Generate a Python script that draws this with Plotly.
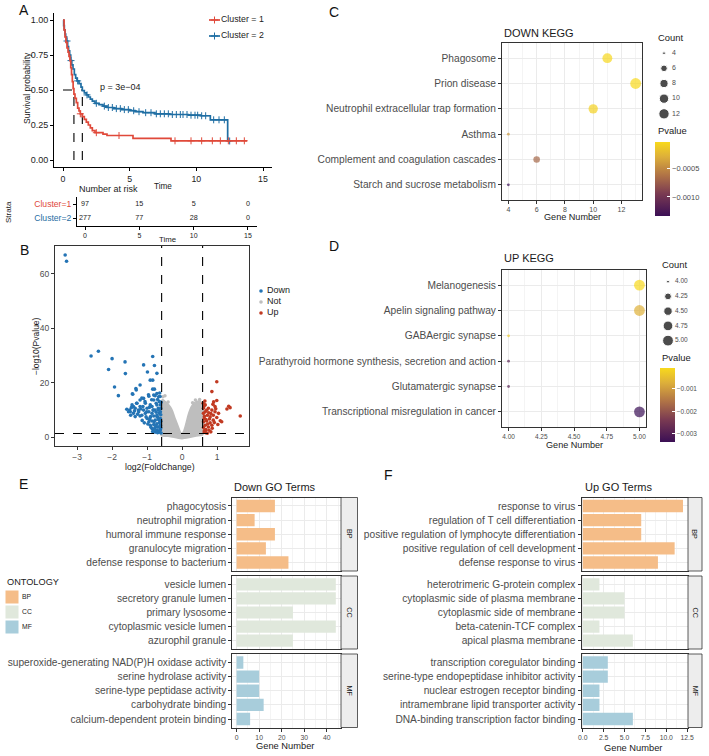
import numpy as np
import plotly.graph_objects as go

W, H = 709, 756

# ============================ DATA ============================
# ---- A: Kaplan-Meier curves (step points) ----
km1_time = [0, 0.08, 0.15, 0.22, 0.30, 0.38, 0.45, 0.52, 0.58, 0.64, 0.70, 0.76, 0.82, 0.90, 1.00,
            1.10, 1.20, 1.30, 1.45, 1.60, 1.75, 1.90, 2.05, 2.20, 2.40, 3.00, 3.30, 5.25, 8.10, 13.80]
km1_surv = [1.00, 0.93, 0.88, 0.84, 0.80, 0.77, 0.74, 0.71, 0.66, 0.61, 0.56, 0.51, 0.47, 0.44, 0.41,
            0.37, 0.35, 0.33, 0.31, 0.29, 0.27, 0.25, 0.23, 0.21, 0.195, 0.185, 0.175, 0.155, 0.137, 0.137]
km2_time = [0, 0.05, 0.10, 0.15, 0.20, 0.27, 0.35, 0.42, 0.50, 0.58, 0.66, 0.75, 0.85, 0.95, 1.05,
            1.20, 1.35, 1.45, 1.60, 1.75, 1.90, 2.05, 2.20, 2.40, 2.70, 3.00, 3.30, 3.80, 4.40, 5.00,
            5.40, 6.00, 6.90, 8.00, 9.40, 10.30, 11.05, 12.35, 12.60]
km2_surv = [1.00, 0.96, 0.93, 0.90, 0.88, 0.85, 0.81, 0.78, 0.75, 0.71, 0.68, 0.65, 0.61, 0.585, 0.565,
            0.545, 0.52, 0.495, 0.48, 0.465, 0.45, 0.435, 0.42, 0.405, 0.395, 0.385, 0.375, 0.367, 0.36, 0.352,
            0.345, 0.338, 0.33, 0.325, 0.32, 0.316, 0.287, 0.136, 0.136]
km1_censor = [1.3, 2.5, 4.2, 8.4, 9.6, 10.4, 11.2, 11.8, 12.4, 13.0, 13.6]
km2_censor = [0.3, 0.6, 1.1, 1.8, 2.5, 3.1, 3.4, 3.7, 4.0, 4.3, 4.6, 4.9, 5.3, 5.7, 6.2, 6.6, 7.0, 7.3,
              7.6, 7.9, 8.2, 8.5, 8.8, 9.0, 9.3, 9.6, 9.9, 10.1, 10.4, 10.7, 11.3, 11.7, 12.1, 12.5]
cluster_labels = ["Cluster = 1", "Cluster = 2"]
strata_labels = ["Cluster=1", "Cluster=2"]
km_p_label = "p = 3e\u221204"
risk_times = [0, 5, 10, 15]
risk_cluster1 = [97, 15, 5, 0]
risk_cluster2 = [277, 77, 28, 0]

# ---- B: volcano plot ----
down_fc = [-3.34, -3.30, -2.60, -2.39, -2.00, -2.10, -1.63, -1.62, -1.93, -1.82, -1.32, -1.42, -1.10, -0.84,
           -0.79, -0.72, -0.99, -0.91, -0.84, -0.84, -0.79,
           -1.50, -1.53, -1.47, -1.39, -1.34, -1.30, -1.25, -1.20, -1.15, -1.12, -1.06, -1.01, -0.96, -0.91,
           -0.90, -0.87, -0.82, -0.80, -0.77, -0.74, -0.72, -0.70, -0.68, -0.65, -0.63, -0.63,
           -1.20, -1.31, -1.41, -0.72, -0.81, -0.95, -1.10, -1.20, -0.81, -0.67, -1.05, -1.29, -1.43, -1.20,
           -1.34, -1.48, -1.39, -1.24, -1.10, -1.00, -0.86, -0.72, -0.65, -1.15, -1.05, -0.95, -0.86, -0.77,
           -0.68, -1.00, -0.91, -0.81, -0.72, -0.65, -0.95, -0.86, -0.77, -0.68, -0.91, -0.81, -0.72, -0.65,
           -0.86, -0.77, -0.68, -0.72, -0.62, -0.65, -0.77, -0.62, -0.62, -0.62, -0.62, -0.69, -0.74, -0.83,
           -0.93, -0.60, -0.61, -0.61, -0.61, -0.61, -0.60, -0.66, -0.70, -0.75, -0.79, -0.84, -0.89, -0.93,
           -0.98, -1.03, -1.08, -1.14, -1.18, -1.27, -1.36, -1.45, -1.58, -0.64, -0.70]
down_logp = [66.9, 64.6, 29.8, 31.5, 28.8, 24.8, 27.6, 23.3, 18.4, 15.2, 17.8, 15.9, 26.5, 29.6,
             26.3, 23.4, 23.9, 20.9, 20.9, 17.6, 17.6,
             9.9, 9.3, 8.0, 11.2, 7.5, 12.4, 9.9, 7.7, 14.3, 11.2, 13.0, 9.3, 15.5, 11.8,
             7.5, 13.7, 9.9, 5.6, 15.2, 12.4, 7.5, 3.7, 9.9, 6.2, 14.9, 2.5,
             19.1, 17.3, 15.7, 16.0, 15.4, 15.0, 14.2, 13.6, 13.6, 14.8, 12.4, 12.4, 11.8, 11.2,
             10.6, 9.3, 8.7, 9.3, 9.9, 10.6, 11.2, 11.8, 13.0, 8.0, 8.7, 9.3, 8.7, 9.9,
             10.6, 6.8, 7.2, 7.7, 8.0, 8.7, 5.6, 5.9, 6.2, 6.5, 4.3, 4.6, 4.9, 5.2,
             3.1, 3.5, 3.7, 2.5, 2.7, 1.8, 1.8, 4.3, 6.8, 9.3, 11.8, 7.2, 9.1, 9.9,
             10.9, 1.5, 3.3, 5.8, 8.2, 10.5, 12.8, 2.2, 1.6, 4.1, 2.9, 2.0, 3.6, 6.4,
             4.8, 7.4, 5.2, 6.1, 10.3, 8.4, 9.6, 10.8, 10.2, 16.2, 13.8]
up_fc = [0.99, 0.85, 0.99, 0.90, 1.28, 1.37, 1.33, 1.66, 1.09, 1.13, 0.66, 0.75, 0.85, 0.94, 1.04,
         0.66, 0.72, 0.80, 0.89, 0.99, 0.63, 0.70, 0.80, 0.89, 0.66, 0.75, 0.85, 0.68, 0.77, 0.63,
         0.72, 0.61, 0.61, 0.61, 0.61, 0.94, 0.60, 0.64, 0.68, 0.73, 0.78, 0.82, 0.86, 0.92, 0.96,
         0.70, 0.76, 0.64, 0.67, 0.82, 1.02, 0.88, 0.62, 0.65]
up_logp = [20.3, 16.7, 13.4, 12.9, 10.3, 10.8, 11.3, 7.7, 6.0, 5.6, 11.8, 10.6, 9.9, 9.3, 8.7,
           9.3, 8.0, 7.4, 8.0, 7.2, 6.8, 5.9, 5.2, 6.2, 4.3, 3.7, 4.3, 2.7, 2.5, 1.8,
           1.4, 8.7, 10.6, 5.6, 3.5, 11.2, 12.4, 7.6, 6.4, 4.8, 6.6, 8.6, 3.2, 5.3, 10.4,
           9.8, 8.9, 2.4, 1.6, 1.9, 4.6, 12.0, 11.2, 13.2]
# outline of the dense grey cloud of non-significant genes
not_fc = [-0.60, -0.60, -0.55, -0.48, -0.42, -0.33, -0.27, -0.22, -0.16, -0.10, -0.05, 0.00, 0.04, 0.09,
          0.14, 0.19, 0.25, 0.32, 0.40, 0.48, 0.55, 0.59, 0.59, 0.40, 0.20, 0.00, -0.20, -0.40, -0.60]
not_logp = [0.6, 13.0, 13.8, 13.0, 12.4, 11.0, 9.5, 7.5, 5.5, 3.5, 1.8, 1.2, 2.0, 4.0,
            6.5, 8.8, 10.8, 12.2, 13.0, 13.2, 12.8, 12.0, 0.8, 0.4, -0.2, -0.6, -0.2, 0.3, 0.6]
not_extra_fc = [-0.49, -0.55, 0.38, 0.50, -0.40, 0.30]
not_extra_logp = [15.2, 14.8, 13.6, 13.8, 12.9, 12.6]
fc_cutoff = 0.585
p_cutoff = 1.3

# ---- C: DOWN KEGG ----
down_kegg_terms = ["Phagosome", "Prion disease", "Neutrophil extracellular trap formation", "Asthma",
                   "Complement and coagulation cascades", "Starch and sucrose metabolism"]
down_kegg_count = [11, 13, 10, 4, 6, 4]
down_kegg_p = [-0.00006, -0.00005, -0.00009, -0.00043, -0.00069, -0.00133]
down_count_breaks = [4, 6, 8, 10, 12]

# ---- D: UP KEGG ----
up_kegg_terms = ["Melanogenesis", "Apelin signaling pathway", "GABAergic synapse",
                 "Parathyroid hormone synthesis, secretion and action", "Glutamatergic synapse",
                 "Transcriptional misregulation in cancer"]
up_kegg_count = [5, 5, 4, 4, 4, 5]
up_kegg_p = [-0.00007, -0.00070, -0.00030, -0.00290, -0.00290, -0.00336]
up_count_breaks = [4.00, 4.25, 4.50, 4.75, 5.00]

# ---- E: Down GO terms ----
down_bp_terms = ["phagocytosis", "neutrophil migration", "humoral immune response", "granulocyte migration",
                 "defense response to bacterium"]
down_bp_counts = [17, 8, 17, 13, 23]
down_cc_terms = ["vesicle lumen", "secretory granule lumen", "primary lysosome", "cytoplasmic vesicle lumen",
                 "azurophil granule"]
down_cc_counts = [44, 44, 25, 44, 25]
down_mf_terms = ["superoxide-generating NAD(P)H oxidase activity", "serine hydrolase activity",
                 "serine-type peptidase activity", "carbohydrate binding", "calcium-dependent protein binding"]
down_mf_counts = [3, 10, 10, 12, 6]

# ---- F: Up GO terms ----
up_bp_terms = ["response to virus", "regulation of T cell differentiation",
               "positive regulation of lymphocyte differentiation", "positive regulation of cell development",
               "defense response to virus"]
up_bp_counts = [12, 7, 7, 11, 9]
up_cc_terms = ["heterotrimeric G-protein complex", "cytoplasmic side of plasma membrane",
               "cytoplasmic side of membrane", "beta-catenin-TCF complex", "apical plasma membrane"]
up_cc_counts = [2, 5, 5, 2, 6]
up_mf_terms = ["transcription coregulator binding", "serine-type endopeptidase inhibitor activity",
               "nuclear estrogen receptor binding", "intramembrane lipid transporter activity",
               "DNA-binding transcription factor binding"]
up_mf_counts = [3, 3, 2, 2, 6]
ontologies = ["BP", "CC", "MF"]

# ============================ STYLE ============================
FONT = "Liberation Sans, Arial, Helvetica, sans-serif"
RED, BLUE = "#E0493A", "#1F6EA3"
V_BLUE, V_RED, V_GREY = "#2474B5", "#C13A22", "#BEBEBE"
GRID, MINOR, BORDER, TXT = "#EBEBEB", "#F4F4F4", "#333333", "#4D4D4D"
ONT_COL = {"BP": "#F5BD88", "CC": "#E0E8DC", "MF": "#A8CDDB"}
PV_SCALE = [[0, "#3B0F55"], [0.3, "#7A3A52"], [0.55, "#B07346"], [0.8, "#DDAF3A"], [1, "#F8D91C"]]


def fx(px):
    return px / W


def fy(py):
    return 1 - py / H


annotations, shapes = [], []


def ann(text, x, y, size=9, color="#1A1A1A", xanchor="center", yanchor="middle", angle=0):
    annotations.append(dict(text=text, x=fx(x), y=fy(y), xref="paper", yref="paper", showarrow=False,
                            font=dict(size=size, color=color, family=FONT), xanchor=xanchor,
                            yanchor=yanchor, textangle=angle))


def axis(dom, rng, anchor, **kw):
    d = dict(domain=dom, range=rng, anchor=anchor, automargin=False, showgrid=False, zeroline=False,
             fixedrange=True)
    d.update(kw)
    return d


def hidden(dom, rng, anchor):
    return dict(domain=dom, range=rng, anchor=anchor, visible=False, fixedrange=True, automargin=False)


def size_px(v, vmin, vmax, dmin=2.8, dmax=10.8):
    return dmin + (dmax - dmin) * np.sqrt((np.asarray(v, float) - vmin) / (vmax - vmin))


fig = go.Figure()
lay = {}

# ============================ A: KM ============================
lay["xaxis"] = axis([fx(54), fx(272)], [-0.675, 15.675], "y", showline=True, linecolor="black", linewidth=1,
                    ticks="outside", ticklen=3, tickcolor="black", tickvals=[0, 5, 10, 15],
                    tickfont=dict(size=8.8, color="#222"))
lay["yaxis"] = axis([fy(167), fy(13)], [-0.05, 1.05], "x", showline=True, linecolor="black", linewidth=1,
                    ticks="outside", ticklen=3, tickcolor="black", tickvals=[0, 0.25, 0.5, 0.75, 1],
                    ticktext=["0.00", "0.25", "0.50", "0.75", "1.00"], tickfont=dict(size=9, color="#222"))


def surv_at(times, surv, t):
    i = np.searchsorted(np.asarray(times), t, side="right") - 1
    return surv[i]


def median_time(times, surv):
    for t, s in zip(times, surv):
        if s <= 0.5:
            return t


m1, m2 = median_time(km1_time, km1_surv), median_time(km2_time, km2_surv)
mmax = max(m1, m2)
fig.add_trace(go.Scatter(x=[0, mmax], y=[0.5, 0.5], mode="lines", line=dict(color="black", width=1.1, dash="dash"),
                         xaxis="x", yaxis="y", hoverinfo="skip"))
for m in (m1, m2):
    fig.add_trace(go.Scatter(x=[m, m], y=[0, 0.5], mode="lines",
                             line=dict(color="black", width=1.1, dash="dash"), xaxis="x", yaxis="y",
                             hoverinfo="skip"))
CENS = dict(symbol="cross-thin-open", size=5)
for tt, ss, cens, col in [(km2_time, km2_surv, km2_censor, BLUE), (km1_time, km1_surv, km1_censor, RED)]:
    fig.add_trace(go.Scatter(x=tt, y=ss, mode="lines", line=dict(color=col, width=1.7, shape="hv"),
                             xaxis="x", yaxis="y", hoverinfo="skip"))
    fig.add_trace(go.Scatter(x=cens, y=[surv_at(tt, ss, c) for c in cens], mode="markers",
                             marker=dict(**CENS, color=col, line=dict(color=col, width=1)),
                             xaxis="x", yaxis="y", hoverinfo="skip"))
annotations.append(dict(text=km_p_label, x=2.6, y=0.52, xref="x", yref="y", showarrow=False, xanchor="left",
                        font=dict(size=9, color="#222", family=FONT)))
ann("Survival probability", 27, 88, size=8.5, angle=-90)
ann("Time", 163, 186, size=8.2)
ann("Number at risk", 77, 189, size=9.0, xanchor="left")

# legend A
lay["xaxis12"] = hidden([fx(205), fx(275)], [0, 70], "y12")
lay["yaxis12"] = hidden([fy(44), fy(12)], [1.5, -0.5], "x12")
for i, (lab, col) in enumerate(zip(cluster_labels, [RED, BLUE])):
    fig.add_trace(go.Scatter(x=[4, 15], y=[i, i], mode="lines", line=dict(color=col, width=1.7),
                             xaxis="x12", yaxis="y12", hoverinfo="skip"))
    fig.add_trace(go.Scatter(x=[9.5], y=[i], mode="markers",
                             marker=dict(**CENS, color=col, line=dict(color=col, width=1)),
                             xaxis="x12", yaxis="y12", hoverinfo="skip"))
    fig.add_trace(go.Scatter(x=[16], y=[i], mode="text", text=[lab], textposition="middle right",
                             textfont=dict(size=8.8, color="#222", family=FONT), xaxis="x12", yaxis="y12",
                             hoverinfo="skip", cliponaxis=False))

# risk table
tick_cols = [RED, BLUE]
lay["xaxis2"] = axis([fx(77), fx(257)], [-0.74, 15.83], "y2", showline=True, linecolor="black", linewidth=1,
                     ticks="outside", ticklen=3, tickcolor="black", tickvals=risk_times,
                     tickfont=dict(size=7, color="#222"))
lay["yaxis2"] = axis([fy(226), fy(197)], [0.43, 2.5], "x2", showline=True, linecolor="black", linewidth=1,
                     ticks="outside", ticklen=3, tickcolor="black", tickvals=[2, 1],
                     ticktext=[f'<span style="color:{c}">{s}</span>' for s, c in zip(strata_labels, tick_cols)],
                     tickfont=dict(size=8.6))
fig.add_trace(go.Scatter(x=risk_times + risk_times, y=[2] * len(risk_times) + [1] * len(risk_times),
                         mode="text", text=[str(v) for v in risk_cluster1 + risk_cluster2],
                         textfont=dict(size=7.2, color="#222", family=FONT), xaxis="x2", yaxis="y2",
                         hoverinfo="skip", cliponaxis=False))
ann("Strata", 8, 212, size=8, angle=-90)
ann("Time", 167, 239, size=7.8)

# ============================ B: volcano ============================
lay["xaxis3"] = axis([fx(55), fx(249)], [-3.63, 1.91], "y3", showline=True, mirror=True, linecolor=BORDER,
                     linewidth=1, ticks="outside", ticklen=3, tickcolor=BORDER, tickvals=[-3, -2, -1, 0, 1],
                     ticktext=["\u22123", "\u22122", "\u22121", "0", "1"], tickfont=dict(size=8.5, color=TXT))
lay["yaxis3"] = axis([fy(446), fy(246)], [-3.3, 70.2], "x3", showline=True, mirror=True, linecolor=BORDER,
                     linewidth=1, ticks="outside", ticklen=3, tickcolor=BORDER, tickvals=[0, 20, 40, 60],
                     tickfont=dict(size=8.5, color=TXT))
fig.add_trace(go.Scatter(x=not_fc, y=not_logp, mode="lines", fill="toself", fillcolor=V_GREY,
                         line=dict(color=V_GREY, width=1.5, shape="spline", smoothing=0.6), xaxis="x3", yaxis="y3",
                         hoverinfo="skip"))
fig.add_trace(go.Scatter(x=not_extra_fc, y=not_extra_logp, mode="markers", marker=dict(color=V_GREY, size=3.5),
                         xaxis="x3", yaxis="y3", hoverinfo="skip"))
fig.add_trace(go.Scatter(x=down_fc, y=down_logp, mode="markers", marker=dict(color=V_BLUE, size=3.6),
                         xaxis="x3", yaxis="y3", hoverinfo="skip"))
fig.add_trace(go.Scatter(x=up_fc, y=up_logp, mode="markers", marker=dict(color=V_RED, size=3.6),
                         xaxis="x3", yaxis="y3", hoverinfo="skip"))
for xv in (-fc_cutoff, fc_cutoff):
    shapes.append(dict(type="line", xref="x3", yref="y3 domain", x0=xv, x1=xv, y0=0, y1=1,
                       line=dict(color="black", width=1.1, dash="dash")))
shapes.append(dict(type="line", xref="x3 domain", yref="y3", x0=0, x1=1, y0=p_cutoff, y1=p_cutoff,
                   line=dict(color="black", width=1.1, dash="dash")))
ann("\u2212log10(Pvalue)", 36, 346, size=8.5, angle=-90)
ann("log2(FoldChange)", 160, 467, size=8.7)
# legend B
lay["xaxis13"] = hidden([fx(255), fx(305)], [0, 50], "y13")
lay["yaxis13"] = hidden([fy(318.5), fy(285.5)], [2.5, -0.5], "x13")
for i, (lab, col) in enumerate(zip(["Down", "Not", "Up"], [V_BLUE, V_GREY, V_RED])):
    fig.add_trace(go.Scatter(x=[6], y=[i], mode="markers", marker=dict(color=col, size=3.6),
                             xaxis="x13", yaxis="y13", hoverinfo="skip"))
    fig.add_trace(go.Scatter(x=[12], y=[i], mode="text", text=[lab], textposition="middle right",
                             textfont=dict(size=9, color="#222", family=FONT), xaxis="x13", yaxis="y13",
                             hoverinfo="skip", cliponaxis=False))


# ============================ C & D: KEGG dot plots ============================
def kegg_panel(ax, terms, counts, pvals, xdom, ydom, xrng, xticks, xticktext, minor_dt, tickfs,
               cb_x, cb_y, cb_vals, cb_text, cbfs):
    xa, ya = "xaxis" + ax, "yaxis" + ax
    lay[xa] = axis(xdom, xrng, "y" + ax, showline=True, mirror=True, linecolor=BORDER, linewidth=1,
                   ticks="outside", ticklen=3, tickcolor=BORDER, tickvals=xticks, ticktext=xticktext,
                   tickfont=dict(size=tickfs, color=TXT), showgrid=True, gridcolor=GRID, gridwidth=1,
                   minor=dict(dtick=minor_dt, tick0=xticks[0], showgrid=True, gridcolor=MINOR, gridwidth=0.6))
    n = len(terms)
    lay[ya] = axis(ydom, [-0.6, n - 1 + 0.6], "x" + ax, type="category", categoryorder="array",
                   categoryarray=terms[::-1], showline=True, mirror=True, linecolor=BORDER, linewidth=1,
                   ticks="outside", ticklen=3, tickcolor=BORDER, tickfont=dict(size=10.2, color=TXT),
                   showgrid=True, gridcolor=GRID, gridwidth=1)
    vmin, vmax = min(counts), max(counts)
    fig.add_trace(go.Scatter(
        x=counts, y=terms, mode="markers", xaxis="x" + ax, yaxis="y" + ax, hoverinfo="skip",
        marker=dict(size=size_px(counts, vmin, vmax), color=pvals, colorscale=PV_SCALE, cmin=min(pvals),
                    cmax=max(pvals), line=dict(width=0), showscale=True,
                    colorbar=dict(x=fx(cb_x), xanchor="left", y=fy(cb_y), yanchor="top", len=74,
                                  lenmode="pixels", thickness=15, xpad=0, ypad=0, outlinewidth=0,
                                  tickvals=cb_vals, ticktext=cb_text, ticks="inside", ticklen=3,
                                  tickcolor="white", tickwidth=1,
                                  tickfont=dict(size=cbfs, color=TXT, family=FONT)))))
    return vmin, vmax


# C
cmin_c, cmax_c = kegg_panel("4", down_kegg_terms, down_kegg_count, down_kegg_p, [fx(502), fx(642)], [fy(200), fy(43)],
                            [3.55, 13.45], [4, 6, 8, 10, 12], ["4", "6", "8", "10", "12"], 1, 7,
                            655, 142, [-0.0005, -0.0010], ["\u22120.0005", "\u22120.0010"], 7.5)
ann("DOWN KEGG", 502, 33, size=11, xanchor="left")
ann("Gene Number", 572, 217, size=9.1)
ann("Count", 656, 38, size=9.4, xanchor="left")
ann("Pvalue", 656, 131, size=9.4, xanchor="left")
lay["xaxis14"] = hidden([fx(655), fx(705)], [0, 50], "y14")
lay["yaxis14"] = hidden([fy(121.4), fy(45.6)], [4.5, -0.5], "x14")
fig.add_trace(go.Scatter(x=[9] * len(down_count_breaks), y=list(range(len(down_count_breaks))), mode="markers",
                         marker=dict(color="black", size=size_px(down_count_breaks, cmin_c, cmax_c)),
                         xaxis="x14", yaxis="y14", hoverinfo="skip"))
fig.add_trace(go.Scatter(x=[17] * len(down_count_breaks), y=list(range(len(down_count_breaks))), mode="text",
                         text=[str(v) for v in down_count_breaks], textposition="middle right",
                         textfont=dict(size=7, color=TXT, family=FONT), xaxis="x14", yaxis="y14",
                         hoverinfo="skip", cliponaxis=False))

# D
cmin_d, cmax_d = kegg_panel("5", up_kegg_terms, up_kegg_count, up_kegg_p, [fx(502), fx(646)], [fy(427), fy(270)],
                            [3.95, 5.05], [4.0, 4.25, 4.5, 4.75, 5.0], ["4.00", "4.25", "4.50", "4.75", "5.00"],
                            0.125, 6.5, 660, 368, [-0.001, -0.002, -0.003],
                            ["\u22120.001", "\u22120.002", "\u22120.003"], 6.5)
ann("UP KEGG", 502, 258, size=11, xanchor="left")
ann("Gene Number", 574, 445, size=9.1)
ann("Count", 660, 265, size=9.4, xanchor="left")
ann("Pvalue", 660, 357, size=9.4, xanchor="left")
lay["xaxis15"] = hidden([fx(659), fx(709)], [0, 50], "y15")
lay["yaxis15"] = hidden([fy(348), fy(274.3)], [4.5, -0.5], "x15")
fig.add_trace(go.Scatter(x=[9] * len(up_count_breaks), y=list(range(len(up_count_breaks))), mode="markers",
                         marker=dict(color="black", size=size_px(up_count_breaks, cmin_d, cmax_d)),
                         xaxis="x15", yaxis="y15", hoverinfo="skip"))
fig.add_trace(go.Scatter(x=[16] * len(up_count_breaks), y=list(range(len(up_count_breaks))), mode="text",
                         text=[f"{v:.2f}" for v in up_count_breaks], textposition="middle right",
                         textfont=dict(size=6.5, color=TXT, family=FONT), xaxis="x15", yaxis="y15",
                         hoverinfo="skip", cliponaxis=False))

# ============================ E & F: GO bar facets ============================
facet_y = {"BP": (571, 497.5), "CC": (649, 576), "MF": (727.5, 654)}


def go_panel(first_ax, data, xdom, xrng, xticks, xticktext, minor_dt, strip_x0, strip_x1):
    for k, ont in enumerate(ontologies):
        ax = str(first_ax + k)
        terms, counts = data[ont]
        ybot, ytop = facet_y[ont]
        bottom = (k == len(ontologies) - 1)
        kw = dict(showline=True, mirror=True, linecolor=BORDER, linewidth=1, showgrid=True, gridcolor=GRID,
                  gridwidth=1, tickvals=xticks, ticktext=xticktext,
                  minor=dict(dtick=minor_dt, tick0=0, showgrid=True, gridcolor=MINOR, gridwidth=0.6))
        if bottom:
            kw.update(ticks="outside", ticklen=3, tickcolor=BORDER, tickfont=dict(size=6.8, color=TXT))
        else:
            kw.update(ticks="", showticklabels=False)
        if k > 0:
            kw["matches"] = "x" + str(first_ax)
        lay["xaxis" + ax] = axis(xdom, xrng, "y" + ax, **kw)
        lay["yaxis" + ax] = axis([fy(ybot), fy(ytop)], [-0.6, len(terms) - 0.4], "x" + ax, type="category",
                                 categoryorder="array", categoryarray=terms[::-1], showline=True, mirror=True,
                                 linecolor=BORDER, linewidth=1, ticks="outside", ticklen=3, tickcolor=BORDER,
                                 tickfont=dict(size=10.2, color=TXT), showgrid=True, gridcolor=GRID, gridwidth=1)
        fig.add_trace(go.Bar(x=counts, y=terms, orientation="h", width=0.87, marker=dict(color=ONT_COL[ont],
                             line=dict(width=0)), xaxis="x" + ax, yaxis="y" + ax, hoverinfo="skip"))
        shapes.append(dict(type="rect", xref="paper", yref="paper", x0=fx(strip_x0), x1=fx(strip_x1),
                           y0=fy(ybot), y1=fy(ytop), fillcolor="#EDEDED", line=dict(color=BORDER, width=0.8),
                           layer="above"))
        ann(ont, (strip_x0 + strip_x1) / 2, (ybot + ytop) / 2, size=7.2, angle=90)


down_go = {"BP": (down_bp_terms, down_bp_counts), "CC": (down_cc_terms, down_cc_counts),
           "MF": (down_mf_terms, down_mf_counts)}
up_go = {"BP": (up_bp_terms, up_bp_counts), "CC": (up_cc_terms, up_cc_counts),
         "MF": (up_mf_terms, up_mf_counts)}
go_panel(6, down_go, [fx(232.3), fx(341)], [-1.9, 46.3], [0, 10, 20, 30, 40], ["0", "10", "20", "30", "40"], 5,
         341, 357.5)
go_panel(9, up_go, [fx(581.5), fx(688)], [-0.15, 12.6], [0, 2.5, 5, 7.5, 10, 12.5],
         ["0.0", "2.5", "5.0", "7.5", "10.0", "12.5"], 1.25, 688, 702)
ann("Down GO Terms", 232, 487, size=11, xanchor="left")
ann("Up GO Terms", 583, 487, size=11, xanchor="left")
ann("Gene Number", 285, 746, size=9.3)
ann("Gene Number", 633, 748, size=9.3)

# ontology legend
ann("ONTOLOGY", 5, 582, size=9.2, xanchor="left")
lay["xaxis16"] = hidden([0, fx(60)], [0, 60], "y16")
lay["yaxis16"] = hidden([fy(634.5), fy(589.5)], [2.5, -0.5], "x16")
fig.add_trace(go.Scatter(x=[12] * 3, y=[0, 1, 2], mode="markers",
                         marker=dict(symbol="square", size=13, color=[ONT_COL[o] for o in ontologies],
                                     line=dict(width=0)),
                         xaxis="x16", yaxis="y16", hoverinfo="skip"))
fig.add_trace(go.Scatter(x=[22] * 3, y=[0, 1, 2], mode="text", text=ontologies, textposition="middle right",
                         textfont=dict(size=6.8, color="#222", family=FONT), xaxis="x16", yaxis="y16",
                         hoverinfo="skip", cliponaxis=False))

# panel letters
for letter, (lx, ly) in {"A": (24, 10), "B": (24, 250), "C": (334, 12), "D": (334, 246), "E": (23, 484),
                         "F": (388, 475)}.items():
    ann(letter, lx, ly, size=14, color="#111")

fig.update_layout(width=W, height=H, margin=dict(l=0, r=0, t=0, b=0), template="none",
                  paper_bgcolor="white", plot_bgcolor="white", showlegend=False, barmode="overlay",
                  font=dict(family=FONT, size=9, color="#222"), annotations=annotations, shapes=shapes, **lay)
fig.write_html("out.html", config={"displayModeBar": False},
               post_script="document.body.style.margin='0px';document.body.style.overflow='hidden';")
